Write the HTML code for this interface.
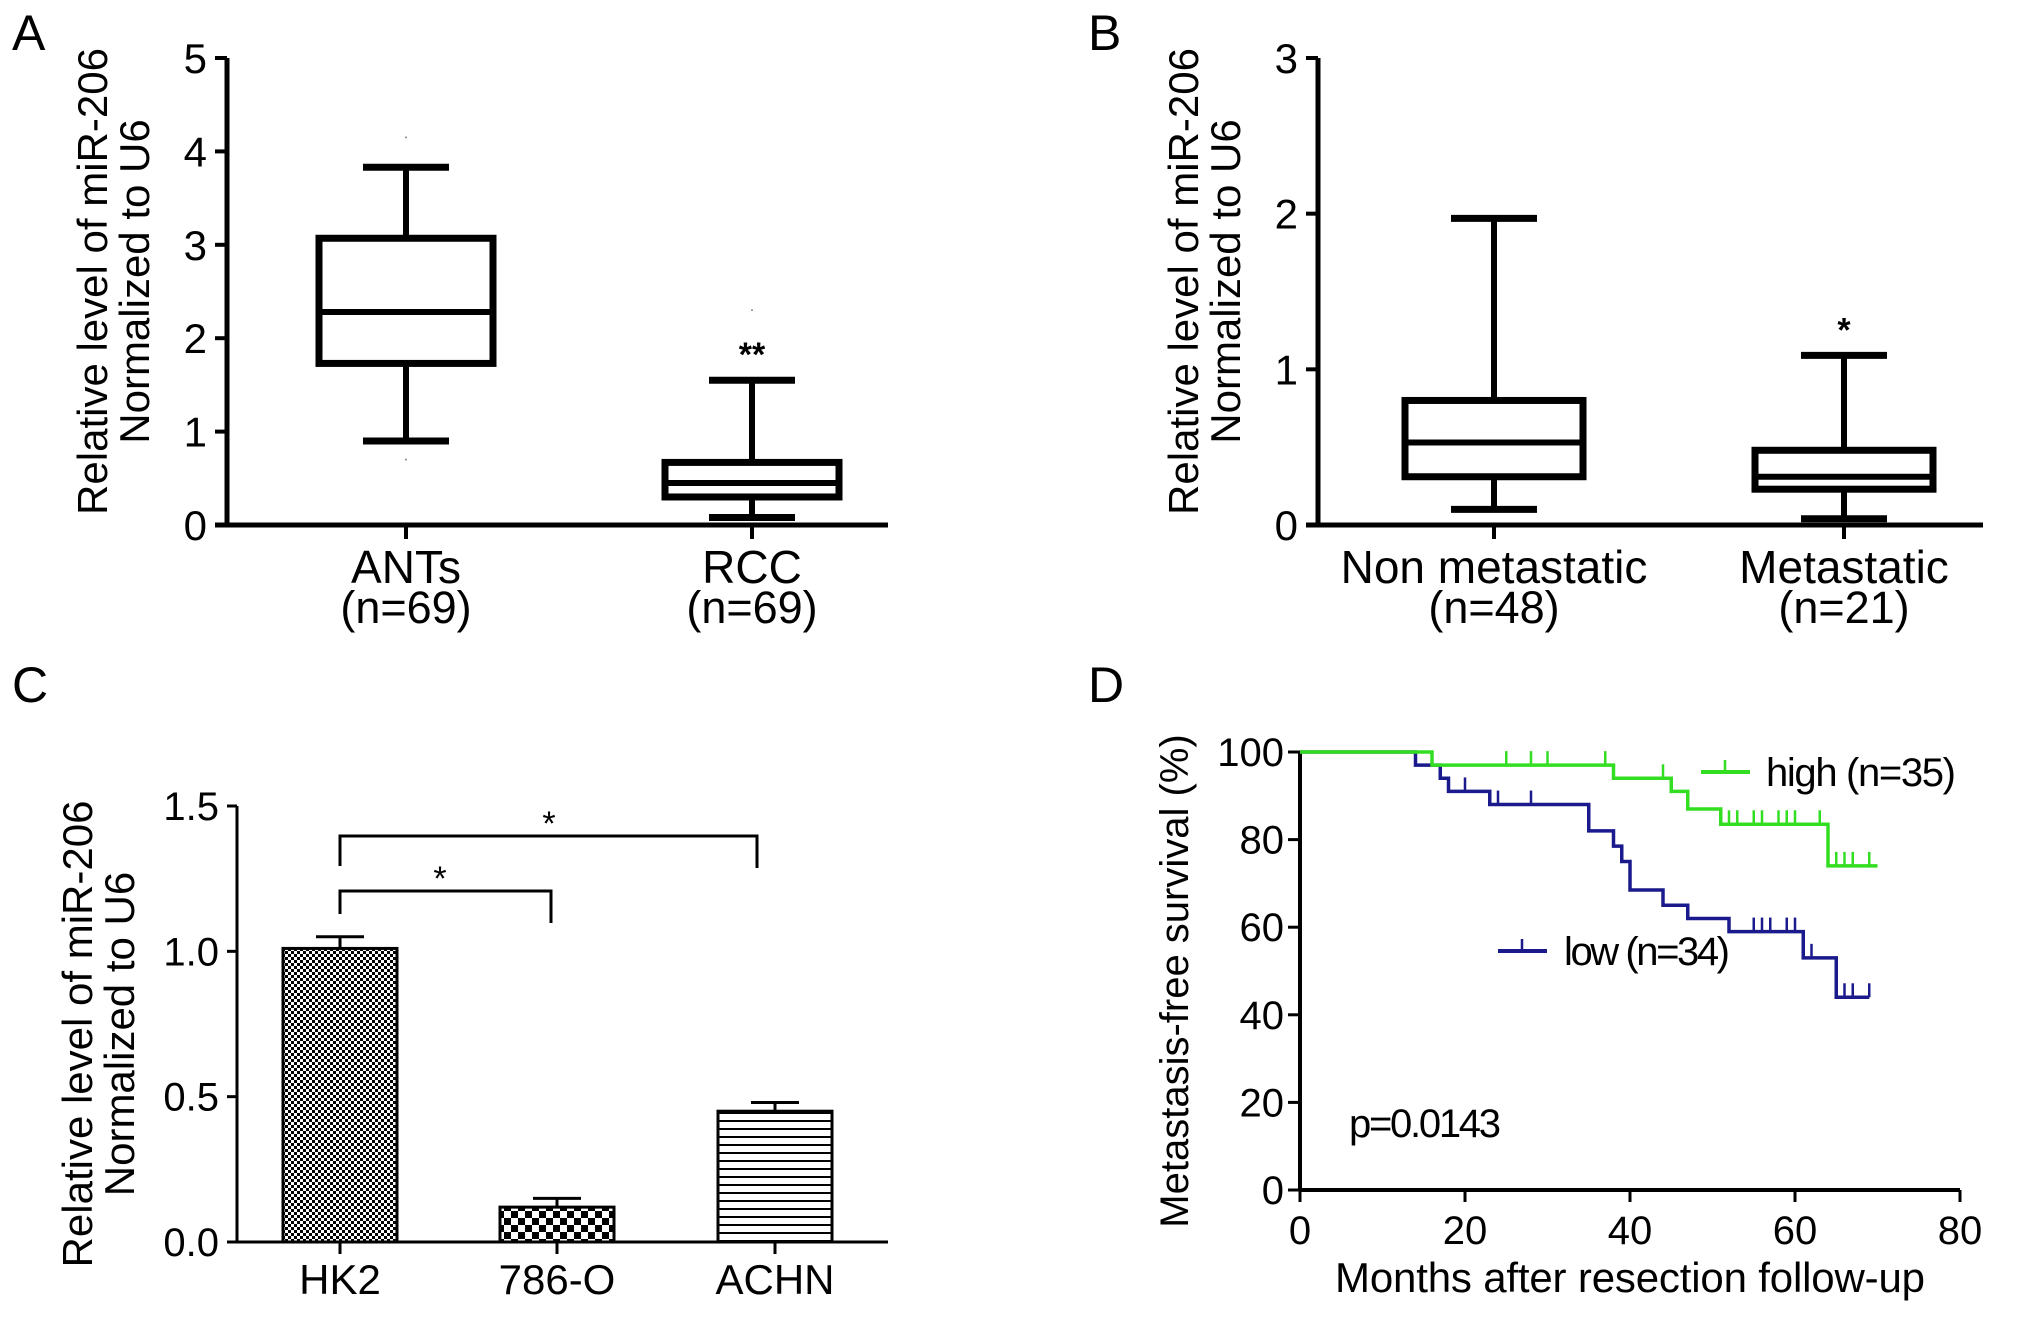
<!DOCTYPE html>
<html><head><meta charset="utf-8"><style>
body{margin:0;background:#fff}
svg{display:block;font-family:"Liberation Sans",Arial,sans-serif}
</style></head><body>
<svg id="fig" width="2031" height="1318" viewBox="0 0 2031 1318" xmlns="http://www.w3.org/2000/svg">
<defs>
<pattern id="pHK" width="6" height="6" patternUnits="userSpaceOnUse"><rect width="6" height="6" fill="#fff"/><rect width="3" height="3" fill="#000"/><rect x="3" y="3" width="3" height="3" fill="#000"/></pattern>
<pattern id="p786" width="14" height="14" patternUnits="userSpaceOnUse"><rect width="14" height="14" fill="#fff"/><rect width="7" height="7" fill="#000"/><rect x="7" y="7" width="7" height="7" fill="#000"/></pattern>
<pattern id="pAC" width="10" height="8" patternUnits="userSpaceOnUse"><rect width="10" height="8" fill="#fff"/><rect y="0" width="10" height="2" fill="#000"/></pattern>
</defs>
<g id="root"></g>
</svg>
<script>
// Panel A data
const catsA = ["ANTs","RCC"];
const nA = ["(n=69)","(n=69)"];
const boxA = [[0.9,1.73,2.28,3.07,3.83],[0.08,0.3,0.45,0.67,1.55]];
const outA = [[4.15,0.7],[2.3]];
const ticksA = [0,1,2,3,4,5];
// Panel B data
const catsB = ["Non metastatic","Metastatic"];
const nB = ["(n=48)","(n=21)"];
const boxB = [[0.1,0.31,0.53,0.8,1.97],[0.04,0.23,0.31,0.48,1.09]];
const ticksB = [0,1,2,3];
// Panel C data
const catsC = ["HK2","786-O","ACHN"];
const valsC = [1.01,0.12,0.45];
const errC = [0.04,0.03,0.03];
const ticksC = [0,0.5,1.0,1.5];
// Panel D data
const highT = [0,16,38,45,47,51,64,70];
const highS = [100,97,94,91,87,83.5,74,74];
const highCens = [25,28,30,37,44,45,52,53,55,56,58,59,60,63,65,66,67,69];
const lowT = [0,14,17,18,23,35,38,39,40,44,47,52,61,65,69];
const lowS = [100,97,94,91,88,82,78.5,75,68.5,65,62,59,53,44,44];
const lowCens = [20,24,28,55,56,57,59,60,62,66,67,69];
const ticksDx = [0,20,40,60,80];
const ticksDy = [0,20,40,60,80,100];

const NS="http://www.w3.org/2000/svg";
const root=document.getElementById('root');
function el(tag,attrs,parent,text){const e=document.createElementNS(NS,tag);for(const k in attrs)e.setAttribute(k,attrs[k]);if(text!==undefined)e.textContent=text;(parent||root).appendChild(e);return e;}
function grp(name){const g=el('g',{});return g;}

// Panel labels
[["A",12,50],["B",1088,50],["C",12,702],["D",1088,702]].forEach(p=>{const t=el('text',{x:p[1],y:p[2],'font-size':50},root,p[0]);});

function boxPanel(id,x0,x1,y0,yTop,ymax,ticks,cats,ns,boxes,centers,half,outs,stars){
  const g=grp('panel-'+id);
  const Y=v=>y0-(v/ymax)*(y0-yTop);
  const ax=el('line',{x1:x0,y1:Y(ymax),x2:x0,y2:y0+2,stroke:'#000','stroke-width':5},g);
  const bx=el('line',{x1:x0-12,y1:y0,x2:x1,y2:y0,stroke:'#000','stroke-width':5},g);
  ticks.forEach(t=>{el('line',{x1:x0-12,y1:Y(t),x2:x0,y2:Y(t),stroke:'#000','stroke-width':4},g);
    const tl=el('text',{x:x0-20,y:Y(t)+15,'font-size':42,'text-anchor':'end'},g,String(t));});
  const yt=el('text',{transform:`translate(${x0-120},${(y0+yTop)/2-10}) rotate(-90)`,'font-size':42,'text-anchor':'middle'},g);
  
  el('tspan',{x:0,dy:0},yt,'Relative level of miR-206');el('tspan',{x:0,dy:42},yt,'Normalized to U6');
  boxes.forEach((b,i)=>{const c=centers[i];
    el('line',{x1:c,y1:y0,x2:c,y2:y0+14,stroke:'#000','stroke-width':4},g);
    const bg=grp('box-'+cats[i].toLowerCase().replace(/\s+/g,'-'));g.appendChild(bg);
    el('line',{x1:c,y1:Y(b[0]),x2:c,y2:Y(b[4]),stroke:'#000','stroke-width':6},bg);
    el('line',{x1:c-43,y1:Y(b[0]),x2:c+43,y2:Y(b[0]),stroke:'#000','stroke-width':7},bg);
    el('line',{x1:c-43,y1:Y(b[4]),x2:c+43,y2:Y(b[4]),stroke:'#000','stroke-width':7},bg);
    el('rect',{x:c-half,y:Y(b[3]),width:2*half,height:Y(b[1])-Y(b[3]),fill:'#fff',stroke:'#000','stroke-width':7},bg);
    el('line',{x1:c-half,y1:Y(b[2]),x2:c+half,y2:Y(b[2]),stroke:'#000','stroke-width':6},bg);
    if(outs&&outs[i])outs[i].forEach(o=>el('circle',{cx:c,cy:Y(o),r:1,fill:'#888'},bg));
    if(stars[i]){const s=el('text',{x:c,y:Y(b[4])-14,'font-size':34,'font-weight':'bold','text-anchor':'middle'},g,stars[i]);}
    const l=el('text',{x:c,y:y0+58,'font-size':46,'text-anchor':'middle'},g,cats[i]);
    const n=el('text',{x:c,y:y0+98,'font-size':45,'text-anchor':'middle'},g,ns[i]);
  });
}
boxPanel('a',227,888,525,58,5,ticksA,catsA,nA,boxA,[406,752],87,outA,["","**"]);
boxPanel('b',1318,1983,525,58,3,ticksB,catsB,nB,boxB,[1494,1844],89,null,["","*"]);

// Panel C
(function(){
  const g=grp('panel-c');const x0=237,x1=888,y0=1242,yTop=806,ymax=1.5;
  const Y=v=>y0-(v/ymax)*(y0-yTop);
  const centers=[340,557,775];const fills=['url(#pHK)','url(#p786)','url(#pAC)'];
  const ax=el('line',{x1:x0,y1:yTop,x2:x0,y2:y0,stroke:'#000','stroke-width':3},g);
  const bx=el('line',{x1:x0,y1:y0,x2:x1,y2:y0,stroke:'#000','stroke-width':3},g);
  ticksC.forEach(t=>{el('line',{x1:x0-10,y1:Y(t),x2:x0,y2:Y(t),stroke:'#000','stroke-width':3},g);
    const tl=el('text',{x:x0-18,y:Y(t)+14,'font-size':40,'text-anchor':'end'},g,t.toFixed(1));});
  const yt=el('text',{transform:`translate(${x0-145},${(y0+yTop)/2+10}) rotate(-90)`,'font-size':42,'text-anchor':'middle'},g);
  
  el('tspan',{x:0,dy:0},yt,'Relative level of miR-206');el('tspan',{x:0,dy:42},yt,'Normalized to U6');
  valsC.forEach((v,i)=>{const c=centers[i];
    el('line',{x1:c,y1:Y(v),x2:c,y2:Y(v+errC[i]),stroke:'#000','stroke-width':3},g);
    el('line',{x1:c-24,y1:Y(v+errC[i]),x2:c+24,y2:Y(v+errC[i]),stroke:'#000','stroke-width':3},g);
    const r=el('rect',{x:c-57,y:Y(v),width:114,height:y0-Y(v),fill:fills[i],stroke:'#000','stroke-width':3},g);
    
    el('line',{x1:c,y1:y0,x2:c,y2:y0+12,stroke:'#000','stroke-width':3},g);
    const l=el('text',{x:c,y:y0+52,'font-size':42,'text-anchor':'middle'},g,catsC[i]);
  });
  const br=grp('significance-brackets');g.appendChild(br);
  el('polyline',{points:`340,914 340,891 551,891 551,923`,fill:'none',stroke:'#000','stroke-width':3},br);
  el('polyline',{points:`340,866 340,836 757,836 757,868`,fill:'none',stroke:'#000','stroke-width':3},br);
  el('text',{x:440,y:890,'font-size':34,'text-anchor':'middle'},br,'*');
  el('text',{x:549,y:835,'font-size':34,'text-anchor':'middle'},br,'*');
})();

// Panel D
(function(){
  const g=grp('panel-d');const x0=1300,x1=1960,y0=1190,yTop=752;
  const X=v=>x0+(v/80)*(x1-x0);const Y=v=>y0-(v/100)*(y0-yTop);
  const ax=el('line',{x1:x0,y1:yTop,x2:x0,y2:y0,stroke:'#000','stroke-width':4},g);
  const bx=el('line',{x1:x0,y1:y0,x2:x1,y2:y0,stroke:'#000','stroke-width':4},g);
  ticksDy.forEach(t=>{el('line',{x1:x0-12,y1:Y(t),x2:x0,y2:Y(t),stroke:'#000','stroke-width':3},g);
    const tl=el('text',{x:x0-16,y:Y(t)+14,'font-size':40,'text-anchor':'end'},g,String(t));});
  ticksDx.forEach(t=>{el('line',{x1:X(t),y1:y0,x2:X(t),y2:y0+12,stroke:'#000','stroke-width':3},g);
    const tl=el('text',{x:X(t),y:y0+54,'font-size':40,'text-anchor':'middle'},g,String(t));});
  const yt=el('text',{transform:`translate(${x0-112},${(y0+yTop)/2+10}) rotate(-90)`,'font-size':40,'text-anchor':'middle'},g,'Metastasis-free survival (%)');
  
  const xt=el('text',{x:1630,y:1292,'font-size':42,'text-anchor':'middle',textLength:590},g,'Months after resection follow-up');
  
  function km(T,S,cens,color,name){
    let d=`M${X(T[0])},${Y(S[0])}`;
    for(let i=1;i<T.length;i++){d+=` H${X(T[i])} V${Y(S[i])}`;}
    const p=el('path',{d:d,fill:'none',stroke:color,'stroke-width':3.5},g);
    
    cens.forEach(c=>{let s=S[0];for(let i=0;i<T.length;i++)if(T[i]<=c)s=S[i];
      el('line',{x1:X(c),y1:Y(s),x2:X(c),y2:Y(s)-14,stroke:color,'stroke-width':2.5},g);});
  }
  km(lowT,lowS,lowCens,'#1a1a8c','km-curve-low');
  km(highT,highS,highCens,'#33dd22','km-curve-high');
  const lh=grp('legend-entry-high');g.appendChild(lh);
  el('line',{x1:1701,y1:772,x2:1750,y2:772,stroke:'#33dd22','stroke-width':4},lh);
  el('line',{x1:1725,y1:772,x2:1725,y2:760,stroke:'#33dd22','stroke-width':2.5},lh);
  el('text',{x:1766,y:786,'font-size':40,textLength:190},lh,'high (n=35)');
  const ll=grp('legend-entry-low');g.appendChild(ll);
  el('line',{x1:1498,y1:951,x2:1547,y2:951,stroke:'#1a1a8c','stroke-width':4},ll);
  el('line',{x1:1522,y1:951,x2:1522,y2:939,stroke:'#1a1a8c','stroke-width':2.5},ll);
  el('text',{x:1564,y:965,'font-size':40,textLength:166},ll,'low (n=34)');
  const pv=el('text',{x:1349,y:1137,'font-size':40,textLength:152},g,'p=0.0143');
  
})();
</script>
</body></html>
